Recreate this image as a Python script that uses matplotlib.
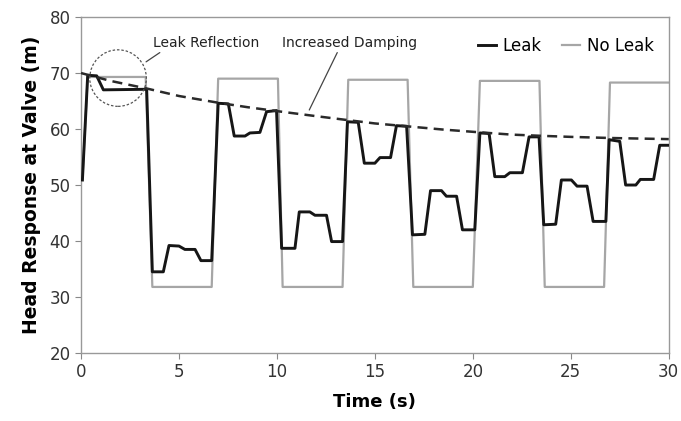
import matplotlib.pyplot as plt
from matplotlib.patches import Ellipse

# Leak signal (black)
leak_t = [0.07, 0.34, 0.8, 1.14, 3.35, 3.64, 4.2, 4.49, 5.0, 5.3, 5.82, 6.12, 6.67,
          7.0, 7.52, 7.82, 8.37, 8.62, 9.13, 9.47, 9.98, 10.24, 10.92, 11.14, 11.68,
          11.94, 12.53, 12.79, 13.35, 13.6, 14.15, 14.46, 15.0, 15.26, 15.8, 16.1,
          16.62, 16.92, 17.55, 17.84, 18.4, 18.65, 19.17, 19.47, 20.1, 20.36, 20.83,
          21.12, 21.63, 21.89, 22.53, 22.87, 23.38, 23.62, 24.23, 24.52, 25.03, 25.32,
          25.83, 26.14, 26.79, 26.96, 27.5, 27.8, 28.32, 28.55, 29.23, 29.54, 30.0]
leak_h = [50.9, 69.6, 69.5, 67.0, 67.1, 34.5, 34.5, 39.2, 39.1, 38.5, 38.5, 36.5, 36.5,
          64.6, 64.5, 58.75, 58.75, 59.3, 59.4, 63.1, 63.3, 38.7, 38.7, 45.2, 45.2,
          44.6, 44.6, 39.9, 39.9, 61.3, 61.2, 53.9, 53.9, 54.9, 54.9, 60.6,
          60.5, 41.1, 41.2, 49.0, 49.0, 48.0, 48.0, 42.0, 42.0, 59.3, 59.2,
          51.5, 51.5, 52.2, 52.2, 58.6, 58.6, 42.9, 43.0, 50.9, 50.9, 49.8,
          49.8, 43.5, 43.5, 58.1, 57.8, 50.0, 50.0, 51.0, 51.0, 57.1, 57.1]

# No leak signal (grey)
noleak_t = [0.07, 0.34, 3.3, 3.64, 6.67, 7.0, 10.05, 10.29, 13.35, 13.64, 16.67, 16.96,
            20.0, 20.36, 23.4, 23.67, 26.7, 27.0, 30.0]
noleak_h = [50.9, 69.3, 69.3, 31.8, 31.8, 69.0, 69.0, 31.8, 31.8, 68.8, 68.8, 31.8,
            31.8, 68.6, 68.6, 31.8, 31.8, 68.3, 68.3]

# damping envelope (dashed)
env_t = [0.0, 1.5, 3.4, 5.0, 7.0, 8.5, 10.0, 12.0, 13.6, 15.0, 16.6, 18.5, 20.4, 22.0,
         23.4, 25.0, 27.0, 28.5, 30.0]
env_h = [70.0, 68.6, 67.2, 65.9, 64.7, 63.9, 63.2, 62.3, 61.6, 61.0, 60.5, 59.9, 59.4,
         59.0, 58.8, 58.6, 58.4, 58.3, 58.2]

fig = plt.figure(figsize=(6.81, 4.21), dpi=100)
ax = fig.add_axes([0.119, 0.1615, 0.863, 0.798])

ax.plot(noleak_t, noleak_h, color='#a6a6a6', lw=1.6, label='No Leak', zorder=2)
ax.plot(leak_t, leak_h, color='#161616', lw=2.1, label='Leak', zorder=3)
ax.plot(env_t, env_h, color='#2a2a2a', lw=1.8, ls=(0, (4, 2.5)), zorder=4)

circ = Ellipse((1.89, 69.1), 2.89, 10.1, fill=False, ec='#555555', lw=0.9,
               ls=(0, (2, 1.5)), zorder=5)
ax.add_patch(circ)

ax.annotate('Leak Reflection', xy=(3.32, 72.0), xytext=(6.4, 75.4),
            fontsize=10, ha='center', va='center', color='#222222',
            arrowprops=dict(arrowstyle='-', color='#444444', lw=0.9,
                            shrinkA=0, shrinkB=0, relpos=(0.1, 0.0)))
ax.annotate('Increased Damping', xy=(11.65, 63.4), xytext=(13.7, 75.4),
            fontsize=10, ha='center', va='center', color='#222222',
            arrowprops=dict(arrowstyle='-', color='#444444', lw=0.9,
                            shrinkA=0, shrinkB=0, relpos=(0.42, 0.0)))

ax.set_xlim(0, 30)
ax.set_ylim(20, 80)
ax.set_xticks([0, 5, 10, 15, 20, 25, 30])
ax.set_yticks([20, 30, 40, 50, 60, 70, 80])
ax.tick_params(labelsize=12, length=4, width=0.8, color='#888888', labelcolor='#333333')
for s in ax.spines.values():
    s.set_color('#999999')
    s.set_linewidth(1.0)
ax.set_xlabel('Time (s)', fontsize=13, fontweight='bold', labelpad=8)
ax.set_ylabel('Head Response at Valve (m)', fontsize=13.5, fontweight='bold', labelpad=6)

handles, labels = ax.get_legend_handles_labels()
ax.legend(handles[::-1], labels[::-1], loc='upper right', ncol=2, frameon=False,
          fontsize=12, handlelength=1.1, handletextpad=0.4, columnspacing=1.2,
          bbox_to_anchor=(1.0, 0.985))

fig.savefig('out.png', dpi=100)
